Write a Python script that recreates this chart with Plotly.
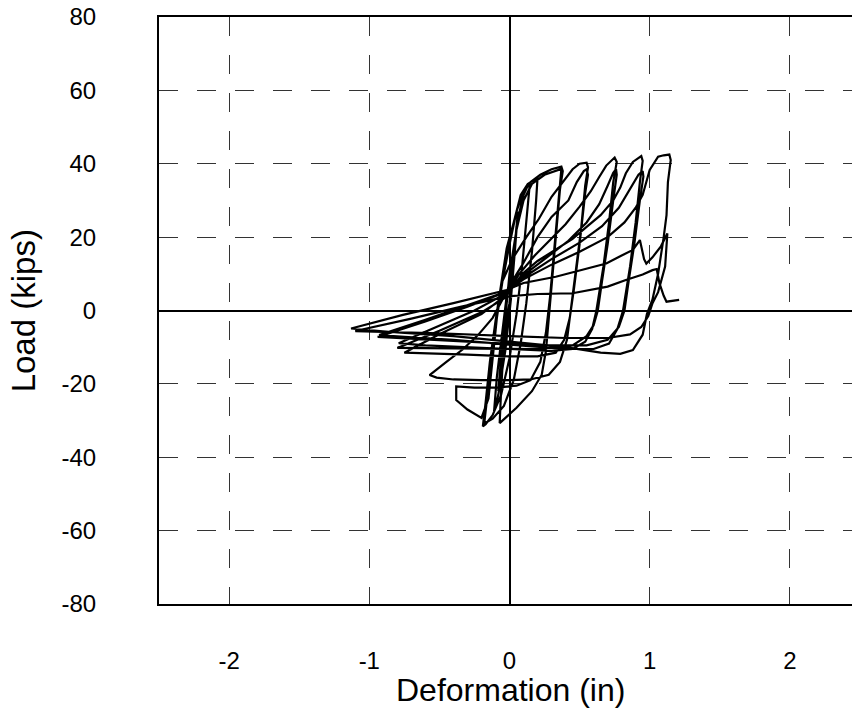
import plotly.graph_objects as go

# ---- data: deformation (in) / load (kips), read cycle by cycle ----
c1_def = [0.00, 0.02, 0.04, 0.05, 0.03, 0.00, -0.03, -0.06, -0.08, -0.06, -0.03, 0.00]
c1_load = [0.0, 10.0, 19.0, 23.0, 13.0, 1.0, -9.0, -18.0, -22.0, -13.0, -4.0, 2.0]

c2_def = [0.03, 0.06, 0.04, 0.01, -0.03, -0.08, -0.11, -0.09, -0.05, -0.02]
c2_load = [14.0, 27.0, 17.0, 3.0, -11.0, -23.0, -27.5, -18.0, -5.0, 4.0]

c3_def = [0.02, 0.06, 0.10, 0.13, 0.145, 0.13, 0.09, 0.05, 0.00, -0.06, -0.12, -0.17, -0.19,
          -0.17, -0.14, -0.10, -0.06, -0.02]
c3_load = [13.0, 25.0, 31.5, 34.0, 34.6, 28.0, 12.0, -1.0, -13.0, -23.0, -28.5, -31.0, -31.6,
           -25.0, -14.0, -3.0, 7.0, 17.0]

c4_def = [0.03, 0.08, 0.13, 0.17, 0.20, 0.19, 0.16, 0.12, 0.08, 0.03, -0.04, -0.12, -0.18,
          -0.16, -0.13, -0.09, -0.05, 0.00, 0.05, 0.10, 0.15, 0.22, 0.30, 0.37]
c4_load = [24.0, 31.5, 34.5, 35.6, 36.2, 30.0, 16.0, 2.0, -9.0, -19.0, -26.0, -29.5, -30.8,
           -24.0, -13.0, -2.0, 8.0, 18.0, 27.0, 32.5, 35.0, 37.0, 38.5, 39.2]

c5_def = [0.38, 0.36, 0.33, 0.30, 0.28, 0.26, 0.23, 0.16, 0.05, -0.07,
          -0.06, -0.045, -0.03, 0.00, 0.05, 0.10, 0.16, 0.25, 0.33, 0.37]
c5_load = [38.0, 33.0, 20.0, 8.0, -2.0, -11.0, -17.5, -22.0, -26.5, -30.7,
           -22.0, -12.0, -2.0, 10.0, 22.0, 30.0, 34.5, 37.0, 38.2, 38.6]

c6_def = [0.35, 0.32, 0.29, 0.26, 0.22, 0.15, 0.05, -0.10, -0.25, -0.38, -0.38, -0.38,
          -0.30, -0.20, -0.15, -0.12, -0.09, -0.05, 0.02, 0.12, 0.21, 0.30, 0.38, 0.45, 0.50, 0.55]
c6_load = [30.0, 16.0, 4.0, -6.0, -14.0, -19.0, -20.5, -21.0, -21.0, -20.7, -22.6, -24.4,
           -27.0, -29.3, -24.0, -12.0, -2.0, 8.0, 14.0, 20.0, 25.0, 31.0, 35.0, 38.5, 40.0, 40.3]

c7_def = [0.56, 0.54, 0.51, 0.47, 0.44, 0.41, 0.36, 0.28, 0.15, 0.00, -0.20, -0.40, -0.52, -0.57,
          -0.45, -0.33, -0.22, -0.12, -0.05, 0.02, 0.10, 0.20, 0.30, 0.42, 0.48, 0.53, 0.55]
c7_load = [39.0, 34.0, 22.0, 10.0, 0.0, -8.0, -14.0, -17.5, -18.8, -19.0, -19.0, -18.8, -18.3, -17.6,
           -14.0, -10.5, -6.5, -2.0, 3.0, 8.0, 13.0, 20.0, 25.5, 30.0, 35.0, 38.0, 38.5]

c8_def = [0.56, 0.54, 0.50, 0.46, 0.43, 0.39, 0.33, 0.20, 0.00, -0.30, -0.60, -0.75,
          -0.50, -0.20, -0.03, 0.07, 0.18, 0.29, 0.40, 0.50, 0.58, 0.64, 0.69, 0.75]
c8_load = [37.0, 32.0, 18.0, 6.0, -2.0, -8.0, -11.5, -12.5, -12.5, -12.0, -11.8, -11.5,
           -6.5, -1.0, 4.0, 10.0, 15.0, 19.2, 23.5, 28.3, 32.5, 36.4, 39.5, 41.7]

c9_def = [0.765, 0.74, 0.71, 0.67, 0.62, 0.59, 0.54, 0.45, 0.30, 0.00, -0.30, -0.60, -0.79,
          -0.50, -0.25, -0.03, 0.08, 0.25, 0.42, 0.55, 0.64, 0.70, 0.74, 0.76]
c9_load = [40.5, 35.0, 24.0, 12.0, 0.0, -5.0, -8.5, -10.5, -11.0, -10.5, -10.0, -9.5, -8.9,
           -4.0, 0.0, 4.5, 9.0, 14.0, 19.0, 24.0, 29.0, 34.0, 37.5, 38.5]

c10_def = [0.765, 0.74, 0.70, 0.66, 0.63, 0.60, 0.55, 0.45, 0.20, -0.20, -0.60, -0.80,
           -0.50, -0.20, -0.03, 0.095, 0.20, 0.33, 0.45, 0.55, 0.65, 0.74, 0.79, 0.83, 0.88, 0.94]
c10_load = [37.0, 30.0, 18.0, 8.0, 0.0, -4.0, -7.0, -9.5, -10.5, -10.4, -10.3, -10.2,
            -5.5, -0.5, 3.5, 10.1, 13.5, 16.5, 19.5, 22.8, 26.0, 30.0, 33.5, 37.4, 40.5, 42.1]

c11_def = [0.95, 0.93, 0.90, 0.86, 0.81, 0.77, 0.71, 0.60, 0.40, 0.00, -0.40, -0.75, -0.93,
           -0.60, -0.30, -0.03, 0.10, 0.30, 0.50, 0.66, 0.78, 0.86, 0.92, 0.95]
c11_load = [40.8, 35.0, 24.0, 12.0, 0.0, -5.0, -9.0, -10.5, -10.5, -9.3, -8.0, -7.2, -6.7,
            -2.5, 1.5, 5.0, 9.0, 14.0, 18.5, 23.0, 28.0, 33.0, 37.0, 38.0]

c12_def = [0.955, 0.93, 0.89, 0.85, 0.82, 0.78, 0.70, 0.55, 0.20, -0.30, -0.70, -0.94,
           -0.60, -0.30, -0.03, 0.10, 0.30, 0.50, 0.70, 0.82, 0.90, 0.95, 1.00, 1.06, 1.10, 1.14]
c12_load = [36.5, 30.0, 18.0, 8.0, 0.0, -4.5, -8.0, -9.5, -9.5, -8.5, -7.6, -7.2,
            -3.0, 1.0, 5.0, 8.5, 12.5, 16.0, 20.0, 24.0, 28.0, 31.5, 38.3, 41.9, 42.3, 42.5]

c13_def = [1.15, 1.13, 1.12, 1.10, 1.06, 1.02, 0.98, 0.95, 0.88, 0.79, 0.65, 0.40, 0.00, -0.40,
           -0.80, -1.13, -0.76, -0.40, -0.02, 0.10, 0.33, 0.55, 0.69, 0.80, 0.88, 0.93, 0.96,
           0.976, 1.02, 1.08, 1.126]
c13_load = [41.0, 35.0, 26.0, 20.0, 10.0, 3.0, -1.0, -6.6, -10.8, -11.8, -11.5, -10.0, -8.5, -7.0,
            -6.0, -4.9, -1.2, 2.0, 5.6, 7.5, 9.2, 11.5, 12.8, 15.0, 16.5, 19.2, 14.0,
            12.8, 14.5, 17.5, 21.0]

c14_def = [1.11, 1.06, 1.02, 0.99, 0.94, 0.86, 0.70, 0.40, 0.00, -0.50, -0.90, -1.10,
           -0.70, -0.35, -0.02, 0.20, 0.45, 0.57, 0.70, 0.83, 0.95, 1.02, 1.05, 1.07, 1.10,
           1.12, 1.16, 1.21]
c14_load = [12.0, 5.0, 2.0, -1.5, -4.5, -6.5, -7.5, -7.5, -7.0, -6.2, -5.8, -5.6,
            -2.2, 1.0, 3.8, 4.5, 4.7, 5.6, 6.5, 8.3, 9.8, 11.0, 11.3, 7.4, 4.0,
            2.4, 2.6, 2.9]

x_ticks = [-2, -1, 0, 1, 2]
y_ticks = [-80, -60, -40, -20, 0, 20, 40, 60, 80]

cycles_def = [c1_def, c2_def, c3_def, c4_def, c5_def, c6_def, c7_def, c8_def,
              c9_def, c10_def, c11_def, c12_def, c13_def, c14_def]
cycles_load = [c1_load, c2_load, c3_load, c4_load, c5_load, c6_load, c7_load, c8_load,
               c9_load, c10_load, c11_load, c12_load, c13_load, c14_load]

deformation = [v for c in cycles_def for v in c]
load = [v for c in cycles_load for v in c]

FONT = "Liberation Sans, Arial, sans-serif"

fig = go.Figure()
fig.add_trace(go.Scatter(
    x=deformation, y=load, mode="lines",
    line=dict(color="black", width=2.2),
    hoverinfo="skip", showlegend=False,
))

grid_common = dict(
    showgrid=True, gridcolor="#333333", gridwidth=1, griddash="19px,19px",
    zeroline=True, zerolinecolor="black", zerolinewidth=2,
    showline=True, linecolor="black", linewidth=2,
    ticks="", tickfont=dict(family=FONT, size=24, color="black"),
)

fig.update_xaxes(
    range=[-2.5, 2.443], tickvals=x_ticks, ticktext=[str(v) for v in x_ticks],
    mirror=True, ticklabelstandoff=34, **grid_common,
)
fig.update_yaxes(
    range=[-80, 80], tickvals=y_ticks, ticktext=[str(v) for v in y_ticks],
    mirror=False, ticklabelstandoff=56, **grid_common,
)

fig.add_annotation(text="Deformation (in)", xref="paper", yref="paper",
                   x=0.5065, y=-0.146, xanchor="center", yanchor="middle",
                   showarrow=False, font=dict(family=FONT, size=32, color="black"))
fig.add_annotation(text="Load (kips)", xref="paper", yref="paper",
                   x=-0.195, y=0.5, xanchor="center", yanchor="middle", textangle=-90,
                   showarrow=False, font=dict(family=FONT, size=33, color="black"))

fig.update_layout(
    width=852, height=714,
    margin=dict(l=159, r=0, t=17, b=110, pad=0),
    paper_bgcolor="white", plot_bgcolor="white",
    showlegend=False,
)

fig.write_html("out.html")
